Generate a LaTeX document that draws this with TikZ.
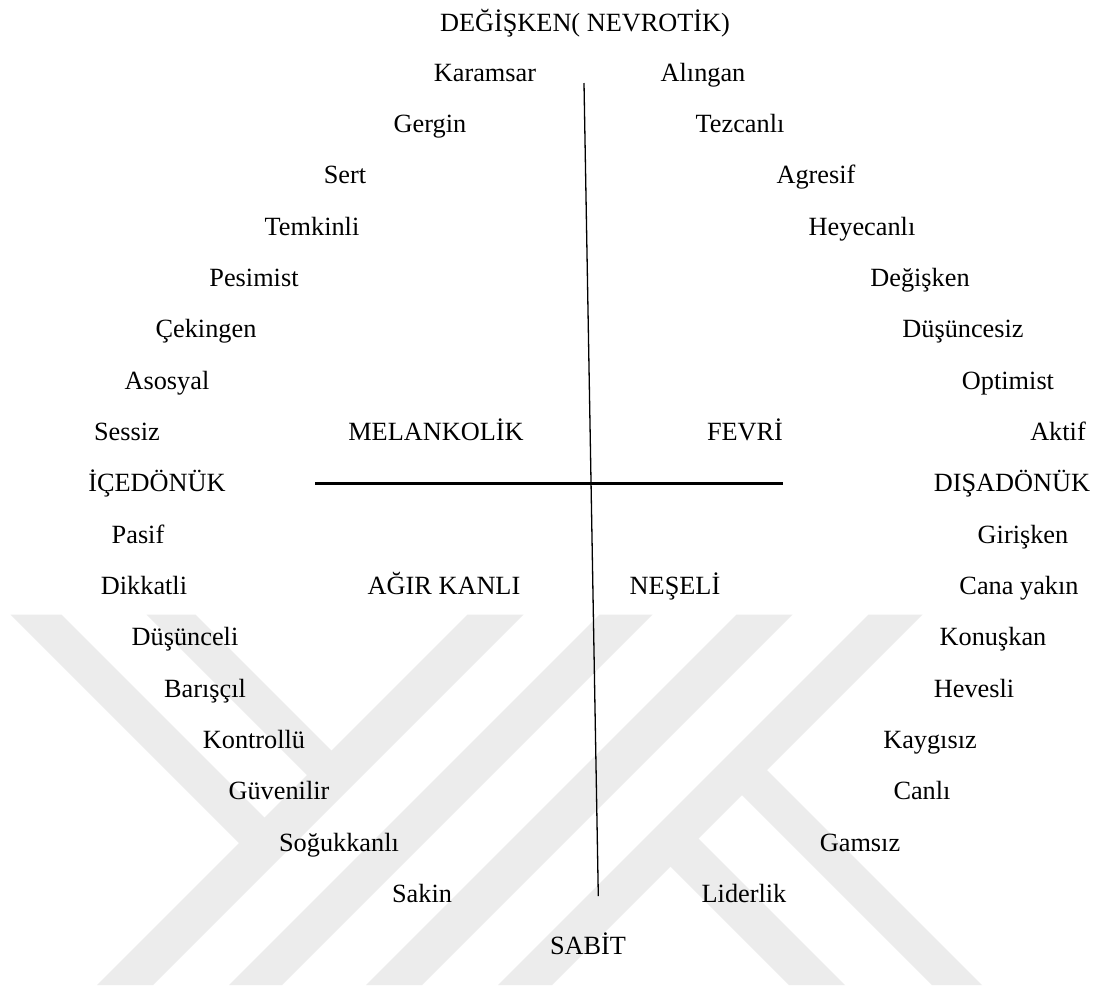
\documentclass[tikz,border=0pt]{standalone}
\usepackage{fontspec}
\setmainfont{Liberation Serif}
\definecolor{wm}{RGB}{236,236,236}
\begin{document}
\begin{tikzpicture}[x=1pt,y=-1pt,
  lbl/.style={font=\fontsize{26.3}{30}\selectfont, anchor=base, inner sep=0pt},
  band/.style={fill=wm, draw=none},
  axisv/.style={line width=1.3pt, black},
  axish/.style={line width=2.4pt, black}]
\useasboundingbox (0,0) rectangle (1100,986);
\fill[white] (0,0) rectangle (1100,986);
% watermark: "/" bands
\fill[band] (467.5,614.5) -- (523.5,614.5) -- (153,985) -- (97,985) -- cycle;
\fill[band] (599.5,614.5) -- (652.5,614.5) -- (282,985) -- (229,985) -- cycle;
\fill[band] (736.5,614.5) -- (792.5,614.5) -- (422,985) -- (366,985) -- cycle;
\fill[band] (868.5,614.5) -- (922.5,614.5) -- (552,985) -- (498,985) -- cycle;
% watermark: "\" bands ending on the first "/" band
\fill[band] (10.5,614.5) -- (61.5,614.5) -- (276,829) -- (250.5,854.5) -- cycle;
\fill[band] (146.5,614.5) -- (195.5,614.5) -- (343,762) -- (318.5,786.5) -- cycle;
% watermark: "\" bands starting on the last "/" band
\fill[band] (758.5,761.5) -- (982,985) -- (932,985) -- (733.5,786.5) -- cycle;
\fill[band] (690,830) -- (845,985) -- (789,985) -- (662,858) -- cycle;

% title
\node[lbl] (top) at (585,31) {DEĞİŞKEN( NEVROTİK)};
% rows
\node[lbl] (karamsar) at (485,81) {Karamsar};
\node[lbl] (alingan) at (703,81) {Alıngan};
\node[lbl] (gergin) at (430,132.4) {Gergin};
\node[lbl] (tezcanli) at (740,132.4) {Tezcanlı};
\node[lbl] (sert) at (345,183.7) {Sert};
\node[lbl] (agresif) at (816,183.7) {Agresif};
\node[lbl] (temkinli) at (312,235) {Temkinli};
\node[lbl] (heyecanli) at (862,235) {Heyecanlı};
\node[lbl] (pesimist) at (254,286.4) {Pesimist};
\node[lbl] (degisken) at (920,286.4) {Değişken};
\node[lbl] (cekingen) at (206,337.8) {Çekingen};
\node[lbl] (dusuncesiz) at (963,337.8) {Düşüncesiz};
\node[lbl] (asosyal) at (167,389.1) {Asosyal};
\node[lbl] (optimist) at (1008,389.1) {Optimist};
\node[lbl] (sessiz) at (127,440.5) {Sessiz};
\node[lbl] (melankolik) at (436,440.5) {MELANKOLİK};
\node[lbl] (fevri) at (745,440.5) {FEVRİ};
\node[lbl] (aktif) at (1058,440.5) {Aktif};
\node[lbl] (icedonuk) at (157,491.8) {İÇEDÖNÜK};
\node[lbl] (disadonuk) at (1012,491.8) {DIŞADÖNÜK};
\node[lbl] (pasif) at (138,543.2) {Pasif};
\node[lbl] (girisken) at (1023,543.2) {Girişken};
\node[lbl] (dikkatli) at (144,594.5) {Dikkatli};
\node[lbl] (agirkanli) at (444,594.5) {AĞIR KANLI};
\node[lbl] (neseli) at (675,594.5) {NEŞELİ};
\node[lbl] (canayakin) at (1019,594.5) {Cana yakın};
\node[lbl] (dusunceli) at (185,645.9) {Düşünceli};
\node[lbl] (konuskan) at (993,645.9) {Konuşkan};
\node[lbl] (bariscil) at (205,697.2) {Barışçıl};
\node[lbl] (hevesli) at (974,697.2) {Hevesli};
\node[lbl] (kontrollu) at (254,748.6) {Kontrollü};
\node[lbl] (kaygisiz) at (930,748.6) {Kaygısız};
\node[lbl] (guvenilir) at (279,799.9) {Güvenilir};
\node[lbl] (canli) at (922,799.9) {Canlı};
\node[lbl] (sogukkanli) at (339,851.3) {Soğukkanlı};
\node[lbl] (gamsiz) at (860,851.3) {Gamsız};
\node[lbl] (sakin) at (422,902.6) {Sakin};
\node[lbl] (liderlik) at (744,902.6) {Liderlik};
\node[lbl] (sabit) at (588,954) {SABİT};

% axes
\coordinate (vtop) at (584,83);
\coordinate (vbot) at (598.3,896);
\coordinate (hl) at (315,483.5);
\coordinate (hr) at (783,483.5);
\draw[axisv] (vtop) -- (vbot);
\draw[axish] (hl) -- (hr);
\end{tikzpicture}
\end{document}
